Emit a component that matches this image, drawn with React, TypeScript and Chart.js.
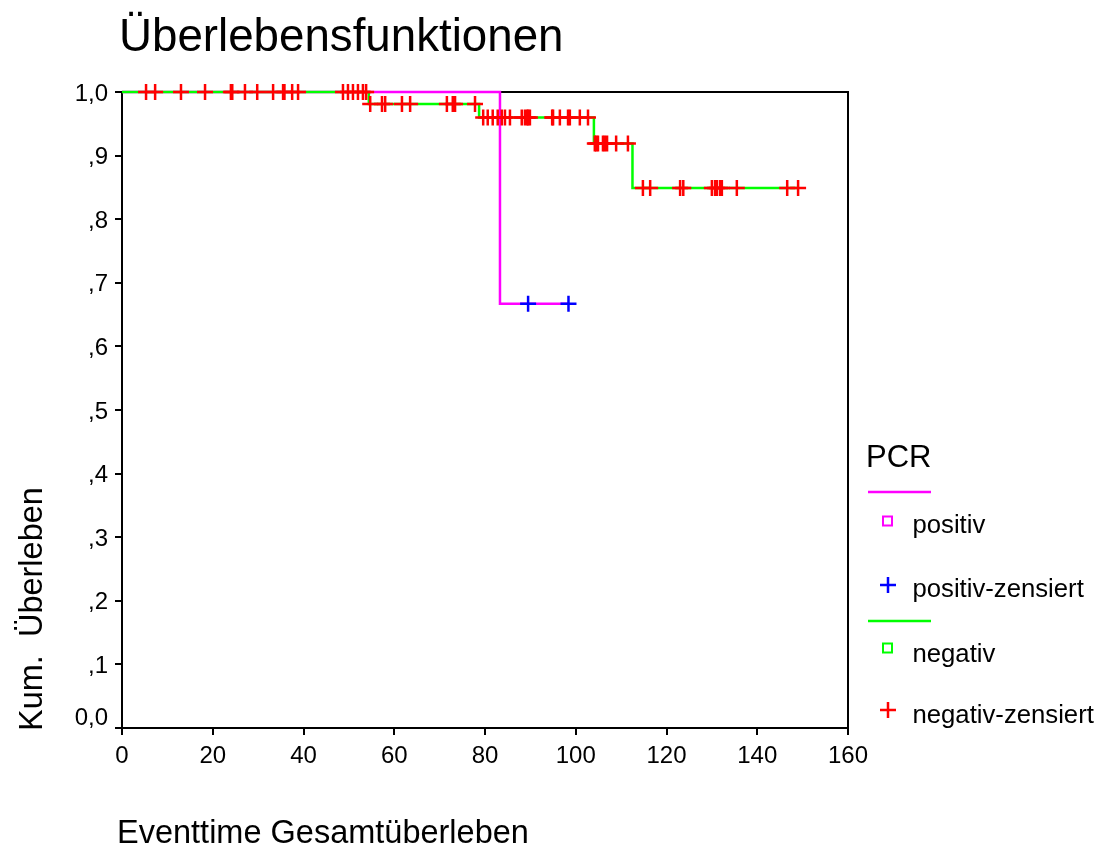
import React, { useEffect, useRef } from "react";
import { Chart, registerables } from "chart.js";

Chart.register(...registerables);

const FONT = "'Liberation Sans', Arial, sans-serif";

const titleText = "Überlebensfunktionen";
const xTitle = "Eventtime Gesamtüberleben";
const yTitle = "Kum.  Überleben";
const legendTitle = "PCR";
const legendLabels = ["positiv", "positiv-zensiert", "negativ", "negativ-zensiert"];

const xTicks = [0, 20, 40, 60, 80, 100, 120, 140, 160];
const yTicks = [0, 0.1, 0.2, 0.3, 0.4, 0.5, 0.6, 0.7, 0.8, 0.9, 1.0];

// positive group
const posEventTimes = [83.3];
const posSurvival = [0.667];
const posCensorTimes = [89.5, 98.4];

// negative group
const negEventTimes = [54.4, 78.7, 104.0, 112.5];
const negSurvival = [0.981, 0.96, 0.919, 0.849];
const negCensorTimes = [
  5.3, 7.3, 13.0, 18.3, 24.0, 24.3, 27.1, 29.8, 33.3, 35.5, 35.8, 37.5, 38.8,
  48.7, 49.8, 50.9, 52.0, 53.1, 53.8,
  54.7, 57.3, 58.0, 61.7, 63.5, 71.6, 72.9, 73.4, 77.8,
  79.6, 80.6, 81.7, 82.8, 83.7, 84.4, 85.5, 88.1, 88.8, 89.3, 89.5, 89.9,
  94.8, 95.0, 96.5, 98.3, 98.7, 100.9, 102.7,
  104.2, 104.5, 104.9, 106.0, 106.4, 106.9, 108.9, 111.5,
  114.8, 116.4, 123.0, 123.7, 130.0, 130.7, 131.1, 131.8, 132.2, 135.5,
  146.6, 149.0,
];

const MAGENTA = "#ff00ff";
const GREEN = "#00ff00";
const RED = "#ff0000";
const BLUE = "#0000ff";

function survivalAt(t: number, times: number[], surv: number[]) {
  let s = 1;
  for (let i = 0; i < times.length; i++) if (times[i] <= t) s = surv[i];
  return s;
}

function stepPoints(times: number[], surv: number[], censors: number[]) {
  const pts = [{ x: 0, y: 1 }];
  times.forEach((t, i) => pts.push({ x: t, y: surv[i] }));
  const end = Math.max(...censors, ...times);
  pts.push({ x: end, y: survivalAt(end, times, surv) });
  return pts;
}

function censorPoints(censors: number[], times: number[], surv: number[]) {
  return censors.map((t) => ({ x: t, y: survivalAt(t, times, surv) }));
}

function fmtY(v: number) {
  const r = Math.round(v * 10);
  if (r === 10) return "1,0";
  if (r === 0) return "0,0";
  return "," + r;
}

const decorPlugin = {
  id: "decor",
  beforeDatasetsDraw(chart: any) {
    const { ctx, chartArea } = chart;
    ctx.save();
    ctx.strokeStyle = "#000";
    ctx.lineWidth = 2;
    ctx.strokeRect(chartArea.left, chartArea.top, chartArea.right - chartArea.left, chartArea.bottom - chartArea.top);
    ctx.restore();
  },
  afterDraw(chart: any) {
    const { ctx } = chart;
    const ys = chart.scales.y;
    ctx.save();
    ctx.fillStyle = "#000";
    // y tick labels
    ctx.font = `24px ${FONT}`;
    ctx.textAlign = "right";
    ctx.textBaseline = "middle";
    ys.ticks.forEach((tk: any) => {
      let y = ys.getPixelForValue(tk.value);
      if (Math.round(tk.value * 10) === 0) y -= 12;
      ctx.fillText(fmtY(tk.value), 108, y + 2);
    });
    // title
    ctx.textAlign = "left";
    ctx.textBaseline = "alphabetic";
    ctx.font = `45.7px ${FONT}`;
    ctx.fillText(titleText, 119, 51);
    // x title
    ctx.font = `32.5px ${FONT}`;
    ctx.fillText(xTitle, 117, 843);
    // y title
    ctx.save();
    ctx.translate(42, 731);
    ctx.rotate(-Math.PI / 2);
    ctx.fillText(yTitle, 0, 0);
    ctx.restore();
    // legend
    ctx.font = `31px ${FONT}`;
    ctx.fillText(legendTitle, 866, 467);
    ctx.lineWidth = 2.5;
    const line = (c: string, y: number) => {
      ctx.strokeStyle = c;
      ctx.beginPath();
      ctx.moveTo(868, y);
      ctx.lineTo(931, y);
      ctx.stroke();
    };
    const square = (c: string, y: number) => {
      ctx.strokeStyle = c;
      ctx.lineWidth = 2;
      ctx.strokeRect(883, y - 4.5, 9, 9);
      ctx.lineWidth = 2.5;
    };
    const cross = (c: string, y: number) => {
      ctx.strokeStyle = c;
      ctx.beginPath();
      ctx.moveTo(880, y);
      ctx.lineTo(896, y);
      ctx.moveTo(888, y - 8);
      ctx.lineTo(888, y + 8);
      ctx.stroke();
    };
    line(MAGENTA, 492);
    square(MAGENTA, 521);
    cross(BLUE, 585);
    line(GREEN, 621);
    square(GREEN, 648);
    cross(RED, 710);
    ctx.fillStyle = "#000";
    ctx.font = `25.7px ${FONT}`;
    const baselines = [533, 597, 662, 723];
    legendLabels.forEach((l, i) => ctx.fillText(l, 912.5, baselines[i]));
    ctx.restore();
  },
};

export default function App() {
  const ref = useRef<HTMLCanvasElement | null>(null);
  useEffect(() => {
    if (!ref.current) return;
    const chart = new Chart(ref.current, {
      type: "line",
      data: {
        datasets: [
          {
            label: "negativ-zensiert",
            data: censorPoints(negCensorTimes, negEventTimes, negSurvival),
            showLine: false,
            pointStyle: "cross",
            pointRadius: 8,
            pointBorderWidth: 2.5,
            borderColor: RED,
            backgroundColor: RED,
            order: 0,
            clip: false,
          } as any,
          {
            label: "positiv-zensiert",
            data: censorPoints(posCensorTimes, posEventTimes, posSurvival),
            showLine: false,
            pointStyle: "cross",
            pointRadius: 8,
            pointBorderWidth: 2.5,
            borderColor: BLUE,
            backgroundColor: BLUE,
            order: 1,
            clip: false,
          } as any,
          {
            label: "negativ",
            data: stepPoints(negEventTimes, negSurvival, negCensorTimes),
            stepped: "before",
            borderColor: GREEN,
            borderWidth: 2.5,
            pointRadius: 0,
            order: 2,
            clip: false,
          } as any,
          {
            label: "positiv",
            data: stepPoints(posEventTimes, posSurvival, posCensorTimes),
            stepped: "before",
            borderColor: MAGENTA,
            borderWidth: 2.5,
            pointRadius: 0,
            order: 3,
            clip: false,
          } as any,
        ],
      },
      options: {
        responsive: false,
        animation: false,
        events: [],
        layout: { padding: { top: 92, right: 252, left: 0, bottom: 0 } },
        plugins: { legend: { display: false }, title: { display: false }, tooltip: { enabled: false } },
        scales: {
          x: {
            type: "linear",
            min: 0,
            max: 160,
            afterBuildTicks: (s: any) => {
              s.ticks = xTicks.map((v) => ({ value: v }));
            },
            afterFit: (s: any) => {
              s.height = 121;
            },
            ticks: {
              color: "#000",
              font: { family: FONT, size: 24 },
              padding: 7,
              maxRotation: 0,
              callback: (v: any) => String(v),
            },
            grid: { drawOnChartArea: false, drawTicks: true, tickLength: 7, color: "#000", lineWidth: 2 },
            border: { display: true, color: "#000", width: 2 },
          },
          y: {
            type: "linear",
            min: 0,
            max: 1,
            afterBuildTicks: (s: any) => {
              s.ticks = yTicks.map((v) => ({ value: v }));
            },
            afterFit: (s: any) => {
              s.width = 122;
            },
            ticks: { display: false },
            grid: { drawOnChartArea: false, drawTicks: true, tickLength: 7, color: "#000", lineWidth: 2 },
            border: { display: true, color: "#000", width: 2 },
          },
        },
      } as any,
      plugins: [decorPlugin],
    });
    return () => chart.destroy();
  }, []);
  return (
    <div style={{ position: "absolute", left: 0, top: 0, width: 1100, height: 849, background: "#fff" }}>
      <canvas ref={ref} width={1100} height={849} style={{ width: 1100, height: 849, display: "block" }} />
    </div>
  );
}
